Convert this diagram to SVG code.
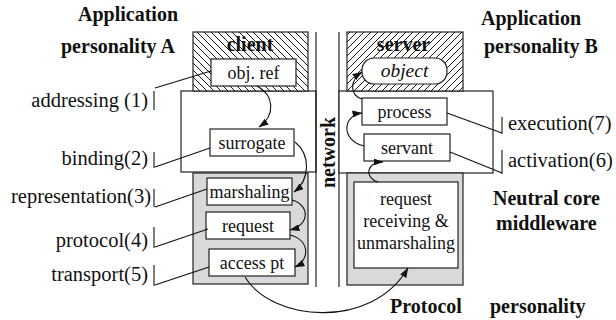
<svg xmlns="http://www.w3.org/2000/svg" width="616" height="320" viewBox="0 0 616 320" font-family="'Liberation Serif', 'Times New Roman', Times, serif">
<style>
.box{fill:#fff;stroke:#222;stroke-width:1.2}
.gray{fill:#d9d9d9;stroke:#222;stroke-width:1.2}
.line{fill:none;stroke:#111;stroke-width:1.1}
.arr{fill:none;stroke:#111;stroke-width:1.1;marker-end:url(#ah)}
.hatch{fill:none;stroke:#000;stroke-width:0.9}
text{font-family:'Liberation Serif','Times New Roman',Times,serif;fill:#111}
.lbl{font-size:20.5px}
.bx{font-size:18px;text-anchor:middle}
.b{font-size:20px;font-weight:bold}
</style>
<defs>
<marker id="ah" markerWidth="10" markerHeight="7" refX="9.5" refY="3.5" orient="auto" markerUnits="userSpaceOnUse">
<path d="M0,0 L10,3.5 L0,7 z" fill="#111"/>
</marker>
<clipPath id="clipC"><rect x="193" y="32" width="115" height="59"/></clipPath>
<clipPath id="clipS"><rect x="347" y="32" width="116" height="59"/></clipPath>
</defs>
<rect width="616" height="320" fill="#fff"/>

<g id="titles" class="b">
<text x="78" y="21">Application</text>
<text x="61" y="53">personality A</text>
<text x="481" y="25">Application</text>
<text x="484" y="53">personality B</text>
<text x="493" y="205">Neutral core</text>
<text x="496" y="230">middleware</text>
<text x="390" y="313">Protocol</text>
<text x="490" y="313">personality</text>
</g>

<g id="client-core">
<rect class="box" x="181" y="91" width="135" height="81"/>
</g>
<g id="client-app">
<rect x="193" y="32" width="115" height="59" fill="#fff"/>
<path class="hatch" clip-path="url(#clipC)" d="M134,32l59,59M141,32l59,59M148,32l59,59M155,32l59,59M162,32l59,59M169,32l59,59M176,32l59,59M183,32l59,59M190,32l59,59M197,32l59,59M204,32l59,59M211,32l59,59M218,32l59,59M225,32l59,59M232,32l59,59M239,32l59,59M246,32l59,59M253,32l59,59M260,32l59,59M267,32l59,59M274,32l59,59M281,32l59,59M288,32l59,59M295,32l59,59M302,32l59,59"/>
<rect x="193" y="32" width="115" height="59" fill="none" stroke="#222" stroke-width="1.2"/>
<text class="b" x="250" y="51" text-anchor="middle">client</text>
</g>
<g id="client-protocol">
<rect class="gray" x="193" y="173" width="115" height="111"/>
</g>
<g id="obj-ref">
<rect class="box" x="211" y="59" width="85" height="27"/>
<text class="bx" x="253.5" y="79">obj. ref</text>
</g>
<g id="surrogate">
<rect class="box" x="210" y="129" width="84" height="27"/>
<text class="bx" x="252" y="149">surrogate</text>
</g>
<g id="marshaling">
<rect class="box" x="207" y="178" width="85" height="27"/>
<text class="bx" x="249.5" y="198">marshaling</text>
</g>
<g id="request">
<rect class="box" x="206" y="212" width="84" height="27"/>
<text class="bx" x="248" y="232">request</text>
</g>
<g id="access-pt">
<rect class="box" x="209" y="249" width="86" height="27"/>
<text class="bx" x="252" y="269">access pt</text>
</g>

<g id="network">
<line class="line" x1="316" y1="32" x2="316" y2="287"/>
<line class="line" x1="339" y1="32" x2="339" y2="287"/>
<text class="b" transform="translate(335,152.5) rotate(-90)" text-anchor="middle">network</text>
</g>

<g id="server-core">
<rect class="box" x="339" y="91" width="154" height="82"/>
</g>
<g id="server-app">
<rect x="347" y="32" width="116" height="59" fill="#fff"/>
<path class="hatch" clip-path="url(#clipS)" d="M350,32l-59,59M357,32l-59,59M364,32l-59,59M371,32l-59,59M378,32l-59,59M385,32l-59,59M392,32l-59,59M399,32l-59,59M406,32l-59,59M413,32l-59,59M420,32l-59,59M427,32l-59,59M434,32l-59,59M441,32l-59,59M448,32l-59,59M455,32l-59,59M462,32l-59,59M469,32l-59,59M476,32l-59,59M483,32l-59,59M490,32l-59,59M497,32l-59,59M504,32l-59,59M511,32l-59,59M518,32l-59,59"/>
<rect x="347" y="32" width="116" height="59" fill="none" stroke="#222" stroke-width="1.2"/>
<text class="b" x="403.5" y="51" text-anchor="middle">server</text>
</g>
<g id="server-protocol">
<rect class="gray" x="347" y="173" width="116" height="112"/>
</g>
<g id="object">
<rect class="box" x="362" y="58" width="85" height="26" rx="12" ry="12"/>
<text class="bx" x="404.5" y="77" font-style="italic" style="font-size:19.5px">object</text>
</g>
<g id="process">
<rect class="box" x="362" y="98" width="85" height="27"/>
<text class="bx" x="404.5" y="118">process</text>
</g>
<g id="servant">
<rect class="box" x="364" y="134" width="86" height="27"/>
<text class="bx" x="407" y="154">servant</text>
</g>
<g id="request-receiving">
<rect class="box" x="354" y="182" width="104" height="86"/>
<text class="bx" x="406" y="205">request</text>
<text class="bx" x="406" y="227">receiving &amp;</text>
<text class="bx" x="406" y="249">unmarshaling</text>
</g>

<g id="labels" class="lbl">
<text x="148" y="107" text-anchor="end">addressing (1)</text>
<text x="148" y="165" text-anchor="end">binding(2)</text>
<text x="151" y="203" text-anchor="end">representation(3)</text>
<text x="148" y="247" text-anchor="end">protocol(4)</text>
<text x="148" y="281" text-anchor="end">transport(5)</text>
<text x="508" y="130">execution(7)</text>
<text x="508" y="167">activation(6)</text>
</g>

<g id="connectors">
<g id="leaders" class="line">
<line x1="154" y1="91" x2="154" y2="110"/>
<path d="M155,88 L211,71"/>
<line x1="154" y1="152" x2="154" y2="168"/>
<path d="M155,167 L210,148"/>
<line x1="154" y1="189" x2="154" y2="207"/>
<path d="M155,207 L207,189"/>
<line x1="154" y1="227" x2="154" y2="248"/>
<path d="M155,247 L208,229"/>
<line x1="154" y1="265" x2="154" y2="286"/>
<path d="M155,285 L209,267"/>
<line x1="502" y1="117" x2="502" y2="134"/>
<path d="M447,113 L502,133"/>
<line x1="502" y1="150" x2="502" y2="174"/>
<path d="M450,152 L502,173"/>
</g>
<path class="arr" d="M257,86 C274,95 276,115 259,127"/>
<path class="arr" d="M295,142 C311,155 310,180 294,192"/>
<path class="arr" d="M292,200 C310,205 310,225 290,230"/>
<path class="arr" d="M290,235 C310,240 310,260 295,267"/>
<path class="arr" d="M245,277 C272,322 372,330 408,268"/>
<path class="arr" d="M378,182 C364,178 366,162 383,162"/>
<path class="arr" d="M364,146 C340,140 343,115 362,113"/>
<path class="arr" d="M362,99 C349,95 350,80 362,72"/>
</g>
</svg>
